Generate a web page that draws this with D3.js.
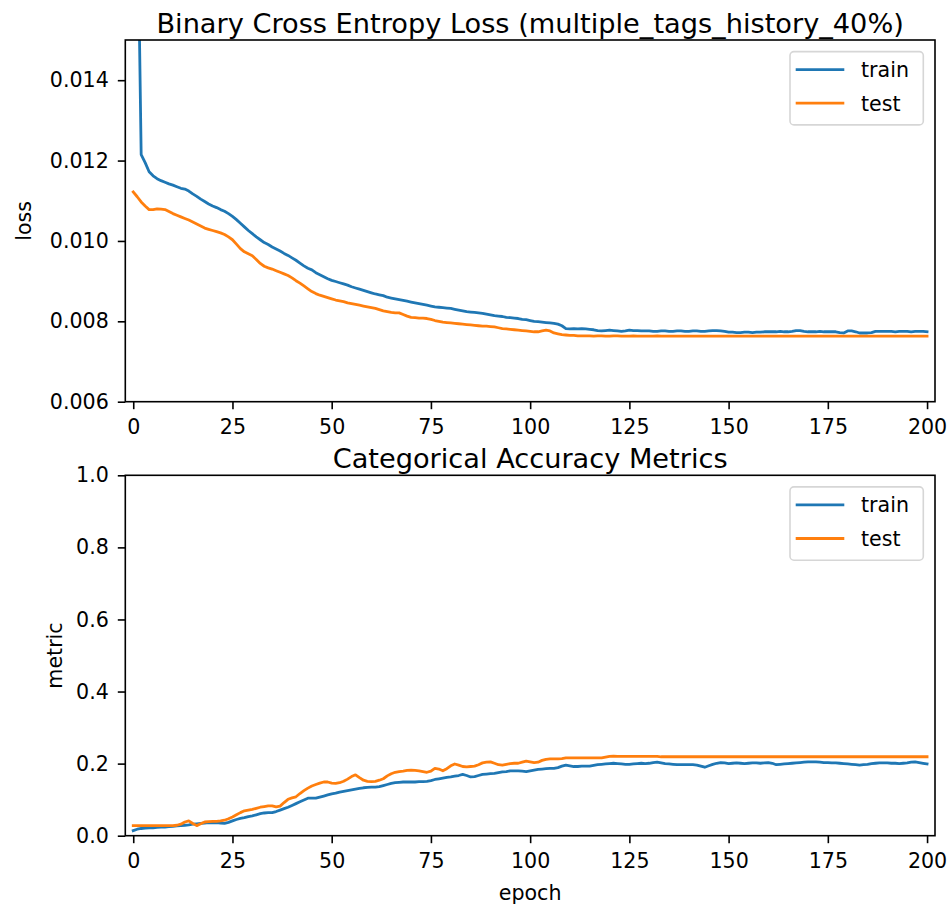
<!DOCTYPE html>
<html>
<head>
<meta charset="utf-8">
<script src="https://cdn.jsdelivr.net/npm/d3@7"></script>
<style>
  body { margin: 0; background: #fff; }
  text { font-family: "DejaVu Sans", sans-serif; fill: #000; }
</style>
</head>
<body>
<svg id="chart" width="949" height="909"></svg>
<script>
// values, one per epoch (0..200)
const trainLoss = [
  0.0600, 0.0190, 0.01215, 0.01195, 0.01172, 0.01162, 0.01155, 0.01150, 0.01146, 0.01142,
  0.01139, 0.01135, 0.01131, 0.01129, 0.01124, 0.01117, 0.01111, 0.01104, 0.01098, 0.01092,
  0.01087, 0.01083, 0.01078, 0.01074, 0.01068, 0.01061, 0.01053, 0.01044, 0.01035, 0.01026,
  0.01018, 0.01010, 0.01003, 0.00996, 0.00991, 0.00985, 0.00980, 0.00975, 0.00969, 0.00964,
  0.00958, 0.00952, 0.00945, 0.00938, 0.00932, 0.00928, 0.00921, 0.00916, 0.00911, 0.00906,
  0.00902, 0.00899, 0.00896, 0.00893, 0.00890, 0.00886, 0.00883, 0.00880, 0.00877, 0.00874,
  0.00871, 0.00868, 0.00866, 0.00864, 0.00860, 0.00858, 0.00856, 0.00854, 0.00852, 0.00850,
  0.00848, 0.00846, 0.00844, 0.00842, 0.00840, 0.00838, 0.00836, 0.00835, 0.00834, 0.00833,
  0.00832, 0.00830, 0.00828, 0.00826, 0.00824, 0.00823, 0.00822, 0.00821, 0.00820, 0.00818,
  0.00816, 0.00814, 0.00813, 0.00812, 0.00810, 0.00809, 0.00808, 0.00807, 0.00805, 0.00804,
  0.00802, 0.00800, 0.00799, 0.00798, 0.00797, 0.00796, 0.00795, 0.00793, 0.00789, 0.00782,
  0.00781, 0.00782, 0.00781, 0.00782, 0.00781, 0.00780, 0.00779, 0.00777, 0.00776, 0.00777,
  0.00778, 0.00777, 0.00776, 0.00775, 0.00776, 0.00778, 0.00777, 0.00777, 0.00776, 0.00776,
  0.00776, 0.00775, 0.00775, 0.00776, 0.00776, 0.00775, 0.00775, 0.00776, 0.00776, 0.00775,
  0.00775, 0.00776, 0.00776, 0.00775, 0.00775, 0.00776, 0.00777, 0.00777, 0.00776, 0.00775,
  0.00773, 0.00773, 0.00772, 0.00772, 0.00773, 0.00773, 0.00772, 0.00773, 0.00773, 0.00774,
  0.00774, 0.00774, 0.00774, 0.00775, 0.00774, 0.00774, 0.00775, 0.00777, 0.00777, 0.00775,
  0.00774, 0.00774, 0.00774, 0.00775, 0.00774, 0.00774, 0.00774, 0.00774, 0.00772, 0.00771,
  0.00776, 0.00776, 0.00774, 0.00771, 0.00771, 0.00771, 0.00772, 0.00775, 0.00775, 0.00775,
  0.00775, 0.00775, 0.00774, 0.00775, 0.00775, 0.00775, 0.00774, 0.00775, 0.00775, 0.00775,
  0.00774
]

const testLoss = [
  0.01122, 0.01110, 0.01097, 0.01087, 0.01078, 0.01078, 0.01080, 0.01079, 0.01078, 0.01073,
  0.01068, 0.01064, 0.01060, 0.01056, 0.01052, 0.01047, 0.01042, 0.01037, 0.01032, 0.01029,
  0.01026, 0.01023, 0.01020, 0.01016, 0.01010, 0.01003, 0.00992, 0.00981, 0.00973, 0.00968,
  0.00963, 0.00954, 0.00944, 0.00937, 0.00933, 0.00930, 0.00926, 0.00922, 0.00918, 0.00914,
  0.00908, 0.00901, 0.00895, 0.00888, 0.00881, 0.00874, 0.00869, 0.00865, 0.00862, 0.00859,
  0.00856, 0.00853, 0.00851, 0.00849, 0.00846, 0.00844, 0.00842, 0.00840, 0.00838, 0.00836,
  0.00834, 0.00832, 0.00829, 0.00826, 0.00824, 0.00822, 0.00821, 0.00821, 0.00817, 0.00813,
  0.00810, 0.00809, 0.00808, 0.00808, 0.00807, 0.00805, 0.00802, 0.00800, 0.00798, 0.00797,
  0.00796, 0.00795, 0.00794, 0.00793, 0.00792, 0.00791, 0.00790, 0.00789, 0.00788, 0.00788,
  0.00787, 0.00786, 0.00784, 0.00782, 0.00781, 0.00780, 0.00779, 0.00778, 0.00777, 0.00776,
  0.00775, 0.00774, 0.00774, 0.00776, 0.00778, 0.00776, 0.00771, 0.00769, 0.00767, 0.00766,
  0.00765, 0.00765, 0.00764, 0.00764, 0.00764, 0.00764, 0.00763, 0.00764, 0.00764, 0.00763,
  0.00763, 0.00764, 0.00764, 0.00763, 0.00763, 0.00763, 0.00764, 0.00763, 0.00763, 0.00763,
  0.00763, 0.00763, 0.00764, 0.00763, 0.00763, 0.00763, 0.00763, 0.00763, 0.00763, 0.00763,
  0.00763, 0.00763, 0.00763, 0.00763, 0.00763, 0.00763, 0.00763, 0.00763, 0.00763, 0.00763,
  0.00763, 0.00763, 0.00763, 0.00763, 0.00763, 0.00763, 0.00763, 0.00763, 0.00763, 0.00763,
  0.00763, 0.00763, 0.00763, 0.00763, 0.00763, 0.00763, 0.00763, 0.00763, 0.00763, 0.00763,
  0.00763, 0.00763, 0.00763, 0.00763, 0.00763, 0.00763, 0.00763, 0.00763, 0.00763, 0.00763,
  0.00763, 0.00763, 0.00763, 0.00763, 0.00763, 0.00763, 0.00763, 0.00763, 0.00763, 0.00763,
  0.00763, 0.00763, 0.00763, 0.00763, 0.00763, 0.00763, 0.00763, 0.00763, 0.00763, 0.00763,
  0.00763
]

const trainMetric = [
  0.014, 0.018, 0.020, 0.021, 0.022, 0.022, 0.023, 0.024, 0.024, 0.025,
  0.026, 0.027, 0.028, 0.029, 0.030, 0.032, 0.033, 0.034, 0.035, 0.036,
  0.036, 0.036, 0.035, 0.034, 0.037, 0.041, 0.045, 0.048, 0.050, 0.053,
  0.055, 0.058, 0.061, 0.063, 0.064, 0.064, 0.067, 0.071, 0.075, 0.079,
  0.084, 0.089, 0.094, 0.099, 0.104, 0.104, 0.104, 0.107, 0.110, 0.113,
  0.116, 0.118, 0.121, 0.123, 0.125, 0.127, 0.129, 0.131, 0.133, 0.134,
  0.135, 0.135, 0.136, 0.139, 0.142, 0.145, 0.147, 0.148, 0.149, 0.149,
  0.149, 0.149, 0.150, 0.150, 0.151, 0.153, 0.156, 0.158, 0.160, 0.162,
  0.163, 0.165, 0.167, 0.170, 0.167, 0.163, 0.164, 0.167, 0.170, 0.171,
  0.172, 0.173, 0.175, 0.177, 0.178, 0.180, 0.180, 0.180, 0.179, 0.178,
  0.180, 0.182, 0.184, 0.185, 0.186, 0.187, 0.187, 0.189, 0.193, 0.196,
  0.194, 0.192, 0.192, 0.193, 0.193, 0.193, 0.195, 0.197, 0.198, 0.199,
  0.200, 0.201, 0.200, 0.199, 0.198, 0.198, 0.199, 0.200, 0.201, 0.200,
  0.201, 0.203, 0.204, 0.202, 0.200, 0.199, 0.198, 0.197, 0.197, 0.197,
  0.197, 0.197, 0.196, 0.193, 0.190, 0.194, 0.198, 0.201, 0.203, 0.202,
  0.200, 0.201, 0.202, 0.201, 0.200, 0.201, 0.202, 0.202, 0.201, 0.202,
  0.203, 0.201, 0.197, 0.198, 0.199, 0.200, 0.201, 0.202, 0.203, 0.204,
  0.205, 0.205, 0.205, 0.204, 0.203, 0.203, 0.202, 0.202, 0.201, 0.200,
  0.199, 0.198, 0.197, 0.196, 0.197, 0.198, 0.200, 0.201, 0.202, 0.202,
  0.202, 0.201, 0.201, 0.200, 0.201, 0.202, 0.204, 0.205, 0.203, 0.201,
  0.199
]

const testMetric = [
  0.028, 0.028, 0.028, 0.028, 0.028, 0.028, 0.028, 0.028, 0.028, 0.028,
  0.028, 0.029, 0.032, 0.038, 0.041, 0.034, 0.028, 0.033, 0.038, 0.039,
  0.040, 0.040, 0.041, 0.043, 0.047, 0.052, 0.058, 0.064, 0.069, 0.071,
  0.073, 0.076, 0.079, 0.081, 0.083, 0.083, 0.080, 0.082, 0.092, 0.101,
  0.105, 0.108, 0.117, 0.125, 0.132, 0.138, 0.142, 0.146, 0.149, 0.149,
  0.146, 0.145, 0.147, 0.151, 0.157, 0.164, 0.169, 0.161, 0.154, 0.151,
  0.150, 0.151, 0.154, 0.158, 0.166, 0.172, 0.176, 0.178, 0.179, 0.181,
  0.182, 0.181, 0.180, 0.178, 0.176, 0.179, 0.187, 0.185, 0.180, 0.186,
  0.194, 0.199, 0.196, 0.192, 0.191, 0.192, 0.193, 0.197, 0.202, 0.204,
  0.205, 0.201, 0.197, 0.196, 0.198, 0.200, 0.201, 0.201, 0.204, 0.207,
  0.205, 0.203, 0.204, 0.209, 0.212, 0.213, 0.213, 0.213, 0.214, 0.216,
  0.216, 0.216, 0.216, 0.216, 0.216, 0.216, 0.216, 0.216, 0.216, 0.218,
  0.220, 0.221, 0.220, 0.220, 0.220, 0.220, 0.220, 0.220, 0.220, 0.220,
  0.220, 0.220, 0.220, 0.219, 0.219, 0.219, 0.219, 0.219, 0.219, 0.219,
  0.219, 0.219, 0.219, 0.219, 0.219, 0.219, 0.219, 0.219, 0.219, 0.219,
  0.219, 0.219, 0.219, 0.219, 0.219, 0.219, 0.219, 0.219, 0.219, 0.219,
  0.219, 0.219, 0.219, 0.219, 0.219, 0.219, 0.219, 0.219, 0.219, 0.219,
  0.219, 0.219, 0.219, 0.219, 0.219, 0.219, 0.219, 0.219, 0.219, 0.219,
  0.219, 0.219, 0.219, 0.219, 0.219, 0.219, 0.219, 0.219, 0.219, 0.219,
  0.219, 0.219, 0.219, 0.219, 0.219, 0.219, 0.219, 0.219, 0.219, 0.219,
  0.219
]

const xTicks = [0, 25, 50, 75, 100, 125, 150, 175, 200]
const lossTicks = [0.006, 0.008, 0.010, 0.012, 0.014]
const metricTicks = [0.0, 0.2, 0.4, 0.6, 0.8, 1.0]
const seriesNames = ['train', 'test']
const colors = ['#1f77b4', '#ff7f0e']

const svg = d3.select('#chart')
const left = 125.3, right = 935
const fontSize = 20.6

function drawPanel(opts) {
  const top = opts.top, bottom = opts.bottom
  const id = opts.id

  const x = d3.scaleLinear().domain([-2, 202]).range([left, right])
  const y = d3.scaleLinear().domain(opts.yDomain).range([bottom, top])

  svg.append('clipPath').attr('id', 'clip' + id)
    .append('rect')
    .attr('x', left).attr('y', top)
    .attr('width', right - left).attr('height', bottom - top)

  const line = d3.line()
    .x((d, i) => x(i))
    .y(d => y(d))

  const g = svg.append('g').attr('clip-path', 'url(#clip' + id + ')')
  opts.series.forEach((s, i) => {
    g.append('path')
      .datum(s)
      .attr('fill', 'none')
      .attr('stroke', colors[i])
      .attr('stroke-width', 2.8)
      .attr('stroke-linejoin', 'round')
      .attr('stroke-linecap', 'square')
      .attr('d', line)
  })

  // axes
  const xa = svg.append('g')
    .attr('transform', 'translate(0,' + bottom + ')')
    .call(d3.axisBottom(x).tickValues(xTicks).tickSize(7.5).tickPadding(10).tickFormat(d3.format('d')))
  const ya = svg.append('g')
    .attr('transform', 'translate(' + left + ',0)')
    .call(d3.axisLeft(y).tickValues(opts.yTicks).tickSize(7.5).tickPadding(9).tickFormat(d3.format(opts.yFormat)))
  ;[xa, ya].forEach(a => {
    a.select('.domain').remove()
    a.selectAll('line').attr('stroke', '#000').attr('stroke-width', 1.6)
    a.selectAll('text').attr('font-size', fontSize).attr('font-family', '"DejaVu Sans"').attr('fill', '#000')
  })

  // frame
  svg.append('rect')
    .attr('x', left).attr('y', top)
    .attr('width', right - left).attr('height', bottom - top)
    .attr('fill', 'none').attr('stroke', '#000').attr('stroke-width', 1.6)

  // title
  svg.append('text')
    .attr('x', (left + right) / 2).attr('y', top - 7)
    .attr('text-anchor', 'middle')
    .attr('font-size', 27.2)
    .text(opts.title)

  // y label
  svg.append('text')
    .attr('transform', 'translate(' + opts.ylabelX + ',' + (top + bottom) / 2 + ') rotate(-90)')
    .attr('text-anchor', 'middle')
    .attr('font-size', fontSize)
    .text(opts.ylabel)

  // legend
  const lx = 790, ly = top + 11.6
  svg.append('rect')
    .attr('x', lx).attr('y', ly)
    .attr('width', 133.3).attr('height', 73.3)
    .attr('rx', 4).attr('ry', 4)
    .attr('fill', 'rgba(255,255,255,0.8)')
    .attr('stroke', '#d6d6d6').attr('stroke-width', 1.6)
  seriesNames.forEach((name, i) => {
    const yy = ly + 18 + i * 33.6
    svg.append('line')
      .attr('x1', 795.7).attr('x2', 844.3)
      .attr('y1', yy).attr('y2', yy)
      .attr('stroke', colors[i]).attr('stroke-width', 2.8)
    svg.append('text')
      .attr('x', 861).attr('y', yy + 7.5)
      .attr('font-size', fontSize)
      .text(name)
  })
}

drawPanel({
  id: 1, top: 40, bottom: 401.7,
  yDomain: [0.006, 0.015], yTicks: lossTicks, yFormat: '.3f',
  series: [trainLoss, testLoss],
  title: 'Binary Cross Entropy Loss (multiple_tags_history_40%)',
  ylabel: 'loss', ylabelX: 31
})

drawPanel({
  id: 2, top: 475.3, bottom: 835.7,
  yDomain: [0, 1], yTicks: metricTicks, yFormat: '.1f',
  series: [trainMetric, testMetric],
  title: 'Categorical Accuracy Metrics',
  ylabel: 'metric', ylabelX: 61.5
})

svg.append('text')
  .attr('x', (left + right) / 2).attr('y', 900)
  .attr('text-anchor', 'middle')
  .attr('font-size', fontSize)
  .text('epoch')
</script>
</body>
</html>
